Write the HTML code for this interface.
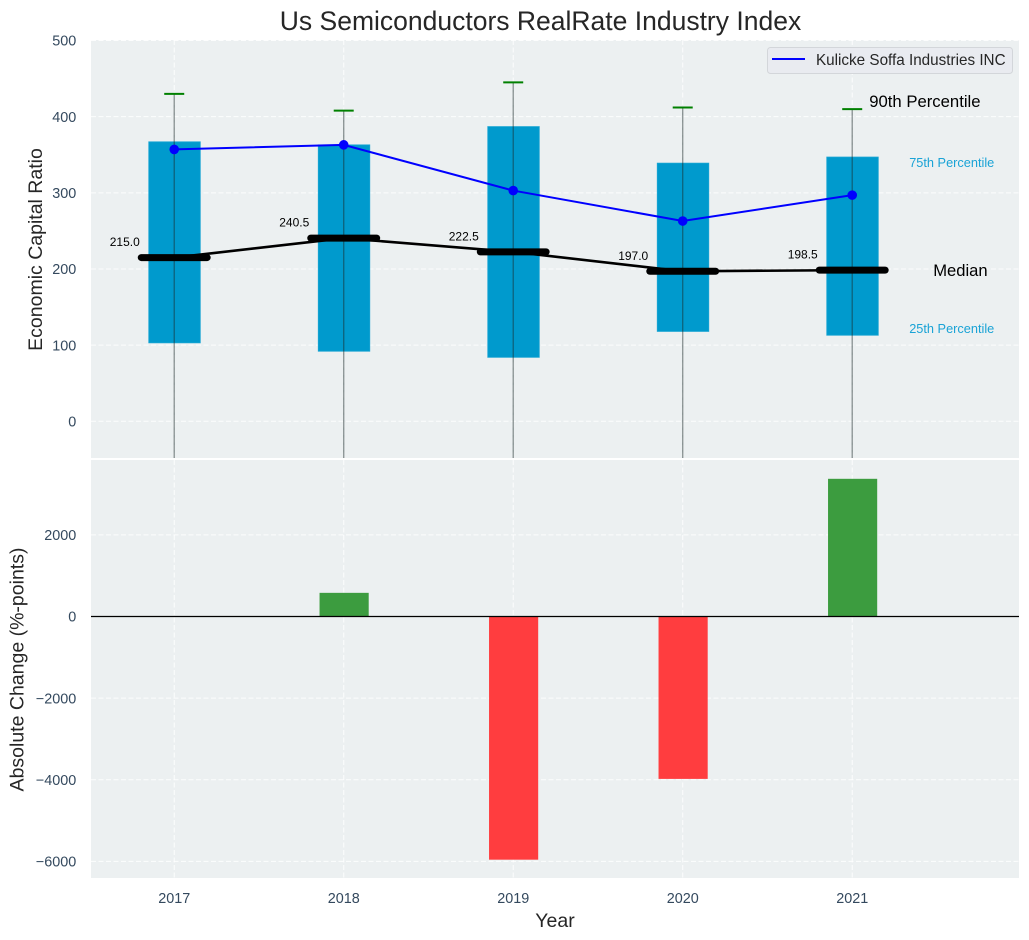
<!DOCTYPE html>
<html>
<head>
<meta charset="utf-8">
<title>Us Semiconductors RealRate Industry Index</title>
<style>
html,body{margin:0;padding:0;background:#fff;width:1029px;height:940px;overflow:hidden}
svg{display:block;font-family:"Liberation Sans",Arial,sans-serif}
</style>
</head>
<body>
<svg id="chart" xmlns="http://www.w3.org/2000/svg" width="1029" height="940" viewBox="0 0 1029 940">
  <defs>
    <clipPath id="clip-top"><rect x="91" y="40" width="928" height="418"/></clipPath>
    <clipPath id="clip-bottom"><rect x="91" y="460" width="928" height="418"/></clipPath>
  </defs>
  <rect x="91" y="40" width="928" height="418" fill="#ecf0f1"/>
  <rect x="91" y="460" width="928" height="418" fill="#ecf0f1"/>
  <g id="grid"></g>
  <g id="top-marks" clip-path="url(#clip-top)"></g>
  <g id="bottom-marks" clip-path="url(#clip-bottom)"></g>
  <g id="labels"></g>
  <text x="540.5" y="29.8" text-anchor="middle" font-size="26.5" fill="#262626">Us Semiconductors RealRate Industry Index</text>
  <text transform="translate(41.8,249.5) rotate(-90)" text-anchor="middle" font-size="19.5" fill="#262626">Economic Capital Ratio</text>
  <text transform="translate(23.3,669.5) rotate(-90)" text-anchor="middle" font-size="19.5" fill="#262626">Absolute Change (%-points)</text>
  <text x="555" y="927" text-anchor="middle" font-size="19.5" fill="#262626">Year</text>
  <g>
    <rect x="767.5" y="47.5" width="245" height="26" rx="3" fill="#e9ebf0" stroke="#d3d6da" stroke-width="1"/>
    <line x1="772" y1="59" x2="805" y2="59" stroke="#0000ff" stroke-width="2"/>
    <text x="816" y="65" font-size="15.25" fill="#262626">Kulicke Soffa Industries INC</text>
  </g>
</svg>
<script>
const years = [2017, 2018, 2019, 2020, 2021];
const p25 = [103, 92, 84, 118, 113];
const p75 = [367, 363, 387, 339, 347];
const p90 = [430, 408, 445, 412, 410];
const p10 = [-120, -110, -130, -100, -105];
const medians = [215.0, 240.5, 222.5, 197.0, 198.5];
const company = [357, 363, 303, 263, 297];
const changes = [0, 580, -5960, -3980, 3375];
const topTicks = [0, 100, 200, 300, 400, 500];
const bottomTicks = [-6000, -4000, -2000, 0, 2000];

const SVGNS = 'http://www.w3.org/2000/svg';
const xMin = 2016.509, xMax = 2021.984;
const topMin = -48.2, topMax = 500.7;
const botMin = -6409, botMax = 3836;
const plotL = 91, plotR = 1019;
const topT = 40, topB = 458, botT = 460, botB = 878;

function xS(v) { return plotL + (v - xMin) / (xMax - xMin) * (plotR - plotL); }
function yTop(v) { return topB - (v - topMin) / (topMax - topMin) * (topB - topT); }
function yBot(v) { return botB - (v - botMin) / (botMax - botMin) * (botB - botT); }
function make(tag, parent, attrs, text) {
  const node = document.createElementNS(SVGNS, tag);
  for (const k in attrs) node.setAttribute(k, attrs[k]);
  if (text !== undefined) node.textContent = text;
  parent.appendChild(node);
  return node;
}
function fmtTick(v) { return v < 0 ? '\u2212' + Math.abs(v) : String(v); }

const grid = document.getElementById('grid');
const topG = document.getElementById('top-marks');
const botG = document.getElementById('bottom-marks');
const labels = document.getElementById('labels');
const gridStyle = { stroke: '#ffffff', 'stroke-width': 1, 'stroke-opacity': 0.85, 'stroke-dasharray': '5 2.5', fill: 'none' };
const tickFont = 14.4;

topTicks.forEach(function (t) {
  const y = yTop(t);
  const gl = make('line', grid, Object.assign({ x1: plotL, x2: plotR, y1: y, y2: y }, gridStyle));
  
  
  const tl = make('text', labels, { x: 76.3, y: y + 5.2, 'text-anchor': 'end', 'font-size': tickFont, fill: '#34495e' }, fmtTick(t));
  
  
});
bottomTicks.forEach(function (t) {
  const y = yBot(t);
  const gl = make('line', grid, Object.assign({ x1: plotL, x2: plotR, y1: y, y2: y }, gridStyle));
  
  
  const tl = make('text', labels, { x: 76.3, y: y + 5.2, 'text-anchor': 'end', 'font-size': tickFont, fill: '#34495e' }, fmtTick(t));
  
  
});
years.forEach(function (yr) {
  const x = xS(yr);
  const g1 = make('line', grid, Object.assign({ x1: x, x2: x, y1: topT, y2: topB }, gridStyle));
  
  
  const g2 = make('line', grid, Object.assign({ x1: x, x2: x, y1: botT, y2: botB }, gridStyle));
  
  
  const tl = make('text', labels, { x: x, y: 903, 'text-anchor': 'middle', 'font-size': tickFont, fill: '#34495e' }, String(yr));
  
  
});

const boxW = 0.304, medW = 0.43, capW = 0.118, chgW = 0.29;

years.forEach(function (yr, i) {
  const box = make('rect', topG, {
    x: xS(yr - boxW / 2) + 0.3, width: xS(yr + boxW / 2) - xS(yr - boxW / 2),
    y: yTop(p75[i]), height: yTop(p25[i]) - yTop(p75[i]),
    fill: '#009acd', stroke: '#1aa5d3', 'stroke-width': 0.8
  });
  
  
});

const medLine = make('polyline', topG, {
  points: years.map(function (yr, i) { return xS(yr) + ',' + yTop(medians[i]); }).join(' '),
  fill: 'none', stroke: '#000000', 'stroke-width': 2.6
});



years.forEach(function (yr, i) {
  const w = make('line', topG, {
    x1: xS(yr), x2: xS(yr), y1: yTop(p90[i]), y2: yTop(p10[i]),
    stroke: '#1a2a2a', 'stroke-opacity': 0.5, 'stroke-width': 1.3
  });
  
  
  const c = make('line', topG, {
    x1: xS(yr - capW / 2), x2: xS(yr + capW / 2), y1: yTop(p90[i]), y2: yTop(p90[i]),
    stroke: '#008000', 'stroke-width': 2
  });
  
  
  const m = make('line', topG, {
    x1: xS(yr - medW / 2) + 3.5, x2: xS(yr + medW / 2) - 3.5, y1: yTop(medians[i]), y2: yTop(medians[i]),
    stroke: '#000000', 'stroke-width': 7, 'stroke-linecap': 'round'
  });
  
  
  const t = make('text', labels, {
    x: xS(yr) - 64.5, y: yTop(medians[i]) - 11.5, 'font-size': 12, fill: '#000000'
  }, medians[i].toFixed(1));
  
  
});

const compLine = make('polyline', topG, {
  points: years.map(function (yr, i) { return xS(yr) + ',' + yTop(company[i]); }).join(' '),
  fill: 'none', stroke: '#0000ff', 'stroke-width': 2
});


years.forEach(function (yr, i) {
  const pt = make('circle', topG, { cx: xS(yr), cy: yTop(company[i]), r: 4.8, fill: '#0000ff' });
  
  
});

changes.forEach(function (v, i) {
  if (v === 0) return;
  const yr = years[i];
  const y0 = yBot(0), y1 = yBot(v);
  const bar = make('rect', botG, {
    x: xS(yr - chgW / 2) + 0.4, width: xS(yr + chgW / 2) - xS(yr - chgW / 2),
    y: Math.min(y0, y1), height: Math.abs(y1 - y0),
    fill: v > 0 ? '#3c9c3f' : '#ff3d3f'
  });
  
  
});
const zero = make('line', botG, { x1: plotL, x2: plotR, y1: yBot(0), y2: yBot(0), stroke: '#000000', 'stroke-width': 1.2 });



const last = years.length - 1;
const lastX = xS(years[last]);
const a90 = make('text', labels, { x: lastX + 17, y: yTop(p90[last]) - 2, 'font-size': 16.7, fill: '#000000' }, '90th Percentile');


const a75 = make('text', labels, { x: lastX + 57, y: yTop(p75[last]) + 10, 'font-size': 12.75, fill: '#1aa3d6' }, '75th Percentile');


const aMed = make('text', labels, { x: lastX + 81, y: yTop(medians[last]) + 6, 'font-size': 16.6, fill: '#000000' }, 'Median');


const a25 = make('text', labels, { x: lastX + 57, y: yTop(p25[last]) - 2.3, 'font-size': 12.75, fill: '#1aa3d6' }, '25th Percentile');


</script>
</body>
</html>
